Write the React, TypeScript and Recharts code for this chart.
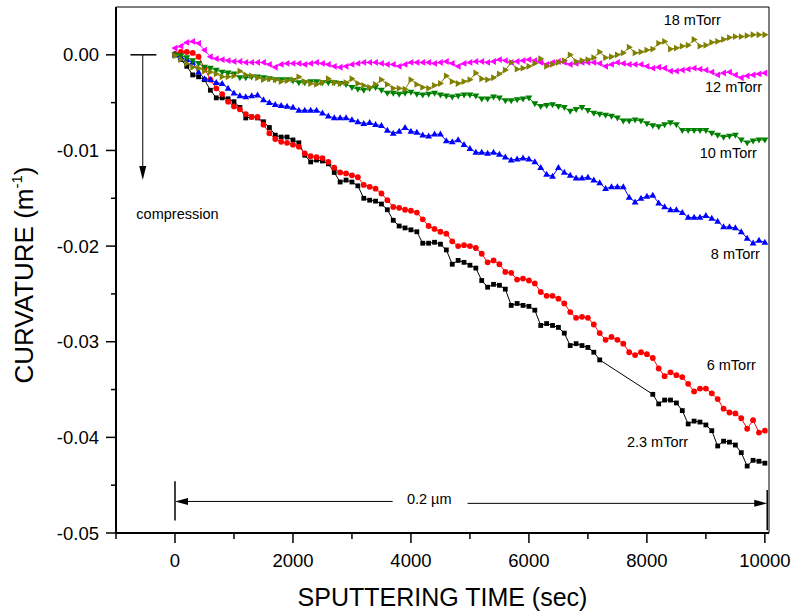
import React from "react"
import { LineChart, Line, XAxis, YAxis, ReferenceLine, ReferenceDot, Label } from "recharts"

// sputtering time (sec)
const TIME = [
  0, 100, 200, 300, 400, 500, 600, 700, 800, 900,
  1000, 1100, 1200, 1300, 1400, 1500, 1600, 1700, 1800, 1900,
  2000, 2100, 2200, 2300, 2400, 2500, 2600, 2700, 2800, 2900,
  3000, 3100, 3200, 3300, 3400, 3500, 3600, 3700, 3800, 3900,
  4000, 4100, 4200, 4300, 4400, 4500, 4600, 4700, 4800, 4900,
  5000, 5100, 5200, 5300, 5400, 5500, 5600, 5700, 5800, 5900,
  6000, 6100, 6200, 6300, 6400, 6500, 6600, 6700, 6800, 6900,
  7000, 7100, 7200, 7300, 7400, 7500, 7600, 7700, 7800, 7900,
  8000, 8100, 8200, 8300, 8400, 8500, 8600, 8700, 8800, 8900,
  9000, 9100, 9200, 9300, 9400, 9500, 9600, 9700, 9800, 9900,
  10000,
]

// curvature (1/m) per pressure
const P_2_3 = [
  0, -0.0005, -0.0012, -0.0021, -0.0023, -0.0026, -0.0037, -0.0045, -0.0045, -0.0046,
  -0.0049, -0.0055, -0.0066, -0.0065, -0.0066, -0.007, -0.0076, -0.0084, -0.0086, -0.0086,
  -0.0089, -0.0092, -0.0105, -0.0112, -0.011, -0.0111, -0.0114, -0.0123, -0.0133, -0.0131,
  -0.0133, -0.0137, -0.015, -0.0152, -0.0153, -0.0156, -0.0162, -0.0173, -0.0179, -0.0181,
  -0.0183, -0.0185, -0.0197, -0.0197, -0.0196, -0.0198, -0.0204, -0.0219, -0.0215, -0.0217,
  -0.022, -0.0223, -0.0236, -0.0243, -0.024, -0.0241, -0.0245, -0.0262, -0.026, -0.0262,
  -0.0263, -0.0267, -0.0283, -0.0281, -0.0283, -0.0285, -0.0291, -0.0304, -0.0302, -0.0304,
  -0.0306, -0.0311, -0.0319, null, null, null, null, null, null, null,
  null, -0.0355, -0.0365, -0.0361, -0.0361, -0.0364, -0.0372, -0.0386, -0.0383, -0.0384,
  -0.0387, -0.0393, -0.0409, -0.0404, -0.0405, -0.0408, -0.0416, -0.043, -0.0424, -0.0425,
  -0.0427,
]

const P_6 = [
  0.0001, 0.0003, 0.0003, 0.0002, -0.0002, -0.0014, -0.0026, -0.0035, -0.0041, -0.0049,
  -0.0054, -0.0057, -0.0062, -0.0065, -0.0065, -0.0073, -0.0082, -0.0088, -0.0091, -0.0092,
  -0.0094, -0.0096, -0.0103, -0.0106, -0.0107, -0.0108, -0.0112, -0.0118, -0.0123, -0.0124,
  -0.0126, -0.0128, -0.0136, -0.0138, -0.014, -0.0145, -0.0152, -0.0159, -0.016, -0.0162,
  -0.0163, -0.0165, -0.0172, -0.0179, -0.0182, -0.0185, -0.0187, -0.0195, -0.02, -0.0199,
  -0.02, -0.0202, -0.0208, -0.0217, -0.0215, -0.0219, -0.0227, -0.0228, -0.0235, -0.0234,
  -0.0236, -0.0239, -0.0248, -0.0252, -0.0252, -0.0255, -0.026, -0.0269, -0.0275, -0.0274,
  -0.0275, -0.0282, -0.0291, -0.0298, -0.0295, -0.0298, -0.0302, -0.0311, -0.0314, -0.0311,
  -0.0313, -0.0317, -0.0328, -0.0336, -0.0332, -0.0335, -0.0337, -0.0344, -0.0352, -0.0349,
  -0.0349, -0.0354, -0.036, -0.037, -0.0374, -0.0375, -0.038, -0.0391, -0.0382, -0.0395,
  -0.0393,
]

const P_8 = [
  0, -0.0003, -0.0005, -0.0008, -0.0018, -0.0025, -0.0026, -0.0029, -0.003, -0.0035,
  -0.004, -0.0043, -0.0044, -0.0043, -0.0042, -0.0047, -0.005, -0.0052, -0.0053, -0.0054,
  -0.0055, -0.0058, -0.0058, -0.0058, -0.0058, -0.0061, -0.0064, -0.0066, -0.0066, -0.0066,
  -0.0068, -0.007, -0.0072, -0.0071, -0.0073, -0.0074, -0.0079, -0.0082, -0.008, -0.0076,
  -0.008, -0.0081, -0.0084, -0.0085, -0.0083, -0.0083, -0.009, -0.0091, -0.0089, -0.0094,
  -0.0098, -0.0102, -0.0102, -0.0103, -0.0102, -0.0104, -0.0107, -0.011, -0.0109, -0.0108,
  -0.0109, -0.0112, -0.0118, -0.0125, -0.0127, -0.0118, -0.0123, -0.0126, -0.0129, -0.0129,
  -0.0128, -0.0131, -0.0134, -0.014, -0.0138, -0.0138, -0.0138, -0.0149, -0.0154, -0.015,
  -0.0148, -0.0147, -0.0155, -0.0159, -0.0162, -0.0162, -0.0165, -0.017, -0.017, -0.017,
  -0.0168, -0.0171, -0.0174, -0.018, -0.018, -0.0181, -0.0185, -0.0192, -0.0197, -0.0194,
  -0.0196,
]

const P_10 = [
  0, -0.0001, -0.0003, -0.0006, -0.0009, -0.0013, -0.0014, -0.0016, -0.0018, -0.0019,
  -0.002, -0.0024, -0.0024, -0.0023, -0.0023, -0.0024, -0.0025, -0.0026, -0.0026, -0.0026,
  -0.0027, -0.0029, -0.0029, -0.0028, -0.0028, -0.0029, -0.0029, -0.0029, -0.003, -0.0031,
  -0.0034, -0.0036, -0.0037, -0.0035, -0.0034, -0.0037, -0.004, -0.004, -0.0041, -0.004,
  -0.0039, -0.0041, -0.0042, -0.0041, -0.004, -0.0042, -0.0043, -0.0044, -0.0043, -0.0042,
  -0.0042, -0.0043, -0.0046, -0.0046, -0.0044, -0.0045, -0.0048, -0.0048, -0.0047, -0.0046,
  -0.0045, -0.0051, -0.0054, -0.0053, -0.0052, -0.0054, -0.0055, -0.0059, -0.0057, -0.0055,
  -0.0058, -0.0061, -0.0062, -0.0063, -0.0064, -0.0066, -0.0069, -0.0069, -0.0068, -0.0069,
  -0.0072, -0.0074, -0.0075, -0.0073, -0.0071, -0.0073, -0.0079, -0.0079, -0.0079, -0.0079,
  -0.0079, -0.0082, -0.0084, -0.0086, -0.0085, -0.0084, -0.0089, -0.0092, -0.009, -0.0089,
  -0.0089,
]

const P_12 = [
  0.0007, 0.0009, 0.0013, 0.0014, 0.0012, 0.0005, -0.0002, -0.0004, -0.0005, -0.0006,
  -0.0007, -0.0007, -0.0008, -0.0008, -0.0008, -0.0008, -0.001, -0.0013, -0.001, -0.0009,
  -0.0009, -0.0009, -0.001, -0.0009, -0.0008, -0.0009, -0.001, -0.0012, -0.0013, -0.0012,
  -0.001, -0.0009, -0.0008, -0.0008, -0.0008, -0.0009, -0.001, -0.001, -0.0012, -0.001,
  -0.0008, -0.0008, -0.0008, -0.0008, -0.0009, -0.0008, -0.0007, -0.0009, -0.0012, -0.0009,
  -0.0008, -0.0007, -0.0007, -0.0008, -0.0007, -0.0005, -0.0006, -0.0008, -0.0007, -0.0006,
  -0.0005, -0.0006, -0.0008, -0.001, -0.0008, -0.0007, -0.0008, -0.001, -0.0009, -0.0008,
  -0.0008, -0.0008, -0.0009, -0.0012, -0.001, -0.0008, -0.0009, -0.001, -0.001, -0.001,
  -0.0012, -0.0014, -0.0013, -0.0014, -0.0017, -0.0017, -0.0016, -0.0015, -0.0014, -0.0015,
  -0.0016, -0.0018, -0.0021, -0.0019, -0.0018, -0.0021, -0.0024, -0.0022, -0.0021, -0.002,
  -0.0019,
]

const P_18 = [
  -0.0001, -0.0005, -0.0009, -0.0013, -0.0014, -0.0017, -0.0018, -0.002, -0.0023, -0.0023,
  -0.0022, -0.0017, -0.0021, -0.0022, -0.0024, -0.0026, -0.0025, -0.0026, -0.0028, -0.0027,
  -0.0026, -0.0023, -0.0028, -0.003, -0.0031, -0.0029, -0.0025, -0.0029, -0.003, -0.0029,
  -0.0025, -0.003, -0.0032, -0.0034, -0.0031, -0.0026, -0.0031, -0.0035, -0.0035, -0.0036,
  -0.0026, -0.0031, -0.0034, -0.0035, -0.0032, -0.003, -0.0022, -0.0028, -0.003, -0.0028,
  -0.0026, -0.0019, -0.0025, -0.0026, -0.0024, -0.002, -0.0016, -0.0008, -0.0015, -0.0014,
  -0.0012, -0.0009, -0.0004, -0.0012, -0.001, -0.0008, -0.0006, 0.0, -0.0007, -0.0006,
  -0.0005, -0.0003, 0.0003, -0.0003, -0.0002, 0.0, 0.0002, 0.0008, 0.0002, 0.0003,
  0.0005, 0.0006, 0.0012, 0.0014, 0.0006, 0.0007, 0.0009, 0.001, 0.0016, 0.0009,
  0.001, 0.0013, 0.0014, 0.0016, 0.0018, 0.0019, 0.0019, 0.002, 0.0021, 0.0021,
  0.0021,
]

const X_TICKS = [-1000, 0, 1000, 2000, 3000, 4000, 5000, 6000, 7000, 8000, 9000, 10000]
const Y_TICKS = [-0.05, -0.045, -0.04, -0.035, -0.03, -0.025, -0.02, -0.015, -0.01, -0.005, 0]

const FONT = '"Liberation Sans", Arial, Helvetica, sans-serif'

const data = TIME.map((t, i) => ({
  t,
  p23: P_2_3[i],
  p6: P_6[i],
  p8: P_8[i],
  p10: P_10[i],
  p12: P_12[i],
  p18: P_18[i],
}))

// symbol renderer per series
function makeDot(kind: string, color: string) {
  return (props: any) => {
    const { cx, cy, index } = props
    const key = `${kind}-${index}`
    if (cx == null || cy == null || isNaN(cx) || isNaN(cy)) return <g key={key} />
    switch (kind) {
      case "square":
        return <rect key={key} x={cx - 2.4} y={cy - 2.4} width={4.8} height={4.8} fill={color} />
      case "circle":
        return <circle key={key} cx={cx} cy={cy} r={2.9} fill={color} />
      case "up":
        return <path key={key} d={`M${cx},${cy - 3.6}L${cx + 3.4},${cy + 2.4}L${cx - 3.4},${cy + 2.4}Z`} fill={color} />
      case "down":
        return <path key={key} d={`M${cx},${cy + 3.6}L${cx + 3.4},${cy - 2.4}L${cx - 3.4},${cy - 2.4}Z`} fill={color} />
      case "left":
        return <path key={key} d={`M${cx - 3.6},${cy}L${cx + 2.4},${cy - 3.4}L${cx + 2.4},${cy + 3.4}Z`} fill={color} />
      default:
        return <path key={key} d={`M${cx + 3.6},${cy}L${cx - 2.4},${cy - 3.4}L${cx - 2.4},${cy + 3.4}Z`} fill={color} />
    }
  }
}

const XTick = (props: any) => {
  const { x, y, payload } = props
  const major = payload.value % 2000 === 0
  return (
    <g>
      <line x1={x} x2={x} y1={y} y2={y + (major ? 10 : 6)} stroke="#000" strokeWidth={1.5} />
      {major && (
        <text x={x} y={y + 34} textAnchor="middle" fontSize={18.5} fontFamily={FONT} fill="#000">
          {payload.value}
        </text>
      )}
    </g>
  )
}

const YTick = (props: any) => {
  const { x, y, payload } = props
  const v = payload.value
  const major = Math.abs(v * 100 - Math.round(v * 100)) < 1e-6
  return (
    <g>
      <line x1={x - (major ? 10 : 5)} x2={x} y1={y} y2={y} stroke="#000" strokeWidth={1.5} />
      {major && (
        <text x={x - 17} y={y + 6.5} textAnchor="end" fontSize={18.5} fontFamily={FONT} fill="#000">
          {v.toFixed(2)}
        </text>
      )}
    </g>
  )
}

const YTitle = (props: any) => {
  const vb = props.viewBox || { x: 0, y: 7, width: 116, height: 526 }
  const cx = vb.x + 33
  const cy = vb.y + vb.height / 2 + 5
  return (
    <text x={cx} y={cy} transform={`rotate(-90, ${cx}, ${cy})`} textAnchor="middle" fontSize={26} fontFamily={FONT} fill="#000">
      CURVATURE (m
      <tspan fontSize={15} dy={-11}>-1</tspan>
      <tspan dy={11}>)</tspan>
    </text>
  )
}

const XTitle = (props: any) => {
  const vb = props.viewBox || { x: 116, y: 533, width: 653, height: 80 }
  return (
    <text x={vb.x + vb.width / 2} y={vb.y + 73} textAnchor="middle" fontSize={25} fontFamily={FONT} fill="#000">
      SPUTTERING TIME (sec)
    </text>
  )
}

const textShape = (label: string, size: number) => (p: any) => (
  <text x={p.cx} y={p.cy} dy="0.35em" textAnchor="middle" fontSize={size} fontFamily={FONT} fill="#000">
    {label}
  </text>
)

const arrowHead = (dir: "down" | "left" | "right") => (p: any) => {
  const { cx, cy } = p
  let d = ""
  if (dir === "down") d = `M${cx},${cy}L${cx - 3.5},${cy - 14}L${cx + 3.5},${cy - 14}Z`
  if (dir === "left") d = `M${cx},${cy}L${cx + 13},${cy - 3.5}L${cx + 13},${cy + 3.5}Z`
  if (dir === "right") d = `M${cx},${cy}L${cx - 13},${cy - 3.5}L${cx - 13},${cy + 3.5}Z`
  return <path d={d} fill="#000" />
}

// annotation anchors, in data coordinates
const SERIES_LABELS = [
  { text: "18 mTorr", x: 8770, y: 0.0036 },
  { text: "12 mTorr", x: 9470, y: -0.0034 },
  { text: "10 mTorr", x: 9380, y: -0.0103 },
  { text: "8 mTorr", x: 9500, y: -0.0208 },
  { text: "6 mTorr", x: 9430, y: -0.0324 },
  { text: "2.3 mTorr", x: 8180, y: -0.0405 },
]

export default function App() {
  return (
    <div style={{ position: "absolute", left: 0, top: 0, width: 793, height: 613, background: "#fff", fontFamily: FONT }}>
      <LineChart width={793} height={613} data={data} margin={{ top: 7, right: 24, left: 0, bottom: 0 }}>
        <XAxis
          type="number"
          dataKey="t"
          domain={[-1000, 10070]}
          ticks={X_TICKS}
          interval={0}
          allowDataOverflow
          height={80}
          tickSize={0}
          tickMargin={0}
          tickLine={false}
          tick={<XTick />}
          axisLine={{ stroke: "#000", strokeWidth: 2 }}
        >
          <Label content={<XTitle />} />
        </XAxis>
        <YAxis
          type="number"
          domain={[-0.05, 0.005]}
          ticks={Y_TICKS}
          interval={0}
          allowDataOverflow
          width={116}
          tickSize={0}
          tickMargin={0}
          tickLine={false}
          tick={<YTick />}
          axisLine={{ stroke: "#000", strokeWidth: 2 }}
        >
          <Label content={<YTitle />} />
        </YAxis>

        <ReferenceLine y={0.005} stroke="#000" strokeWidth={1} />
        <ReferenceLine x={10070} stroke="#000" strokeWidth={1} />

        <Line dataKey="p23" stroke="#000" strokeWidth={1} dot={makeDot("square", "#000")} connectNulls isAnimationActive={false} />
        <Line dataKey="p6" stroke="#ff0000" strokeWidth={1} dot={makeDot("circle", "#ff0000")} isAnimationActive={false} />
        <Line dataKey="p8" stroke="#0000ff" strokeWidth={1} dot={makeDot("up", "#0000ff")} isAnimationActive={false} />
        <Line dataKey="p10" stroke="#008000" strokeWidth={1} dot={makeDot("down", "#008000")} isAnimationActive={false} />
        <Line dataKey="p12" stroke="#ff00ff" strokeWidth={1} dot={makeDot("left", "#ff00ff")} isAnimationActive={false} />
        <Line dataKey="p18" stroke="#808000" strokeWidth={1} dot={makeDot("right", "#808000")} isAnimationActive={false} />

        {/* compression arrow */}
        <ReferenceLine segment={[{ x: -755, y: 0 }, { x: -315, y: 0 }]} stroke="#000" strokeWidth={1.5} ifOverflow="visible" />
        <ReferenceLine segment={[{ x: -546, y: 0 }, { x: -546, y: -0.0118 }]} stroke="#000" strokeWidth={1} ifOverflow="visible" />
        <ReferenceDot x={-546} y={-0.0131} r={0} shape={arrowHead("down")} ifOverflow="visible" />
        <ReferenceDot x={42} y={-0.01665} r={0} shape={textShape("compression", 14.5)} ifOverflow="visible" />

        {/* 0.2 um span */}
        <ReferenceLine segment={[{ x: 0, y: -0.0446 }, { x: 0, y: -0.0487 }]} stroke="#000" strokeWidth={1.5} ifOverflow="visible" />
        <ReferenceLine segment={[{ x: 10040, y: -0.0455 }, { x: 10040, y: -0.0497 }]} stroke="#000" strokeWidth={1.5} ifOverflow="visible" />
        <ReferenceLine segment={[{ x: 150, y: -0.0467 }, { x: 3690, y: -0.0467 }]} stroke="#000" strokeWidth={1} ifOverflow="visible" />
        <ReferenceLine segment={[{ x: 4960, y: -0.0469 }, { x: 9900, y: -0.0469 }]} stroke="#000" strokeWidth={1} ifOverflow="visible" />
        <ReferenceDot x={0} y={-0.0467} r={0} shape={arrowHead("left")} ifOverflow="visible" />
        <ReferenceDot x={10040} y={-0.0469} r={0} shape={arrowHead("right")} ifOverflow="visible" />
        <ReferenceDot x={4310} y={-0.0464} r={0} shape={textShape("0.2 µm", 14.5)} ifOverflow="visible" />

        {SERIES_LABELS.map((l) => (
          <ReferenceDot key={l.text} x={l.x} y={l.y} r={0} shape={textShape(l.text, 14.5)} ifOverflow="visible" />
        ))}
      </LineChart>
    </div>
  )
}
